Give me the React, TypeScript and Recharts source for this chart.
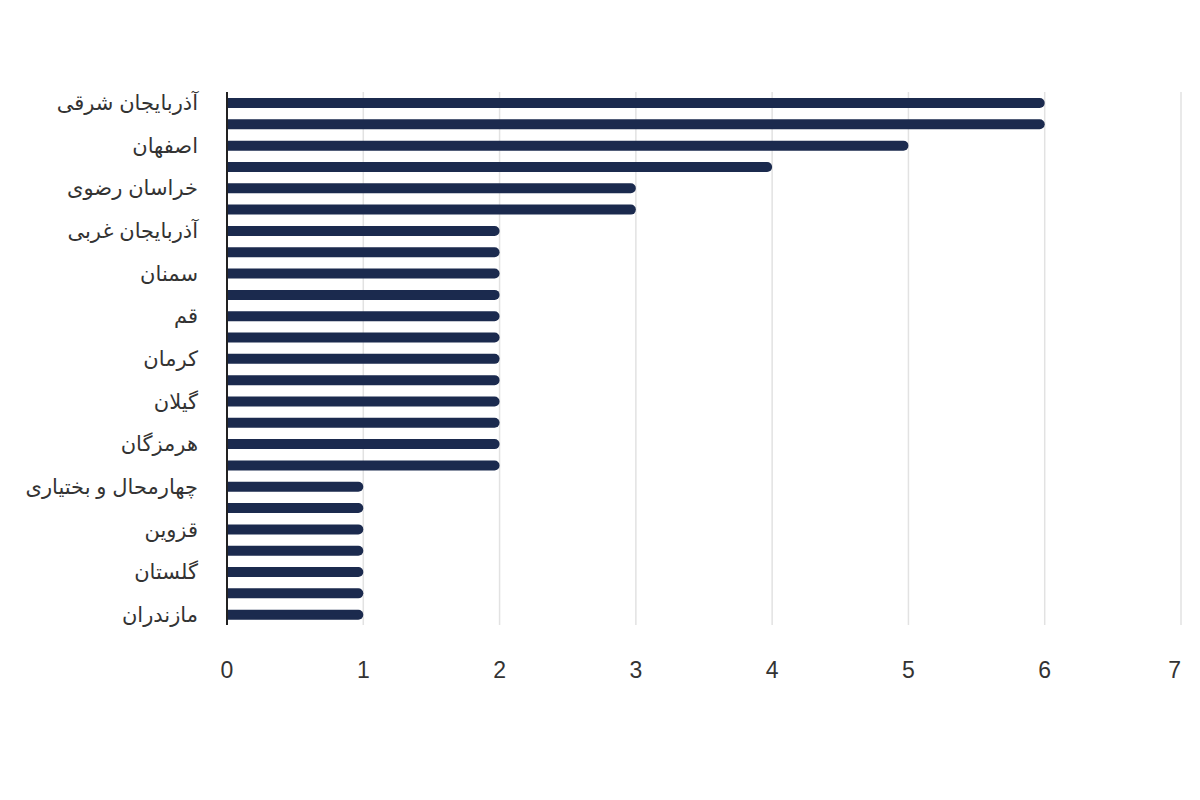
import { Bar, BarChart, CartesianGrid, XAxis, YAxis } from "recharts";

const PROVINCES = [
  "آذربایجان شرقی",
  "تهران",
  "اصفهان",
  "فارس",
  "خراسان رضوی",
  "خوزستان",
  "آذربایجان غربی",
  "زنجان",
  "سمنان",
  "سیستان و بلوچستان",
  "قم",
  "کردستان",
  "کرمان",
  "کرمانشاه",
  "گیلان",
  "مرکزی",
  "هرمزگان",
  "یزد",
  "چهارمحال و بختیاری",
  "خراسان شمالی",
  "قزوین",
  "کهگیلویه و بویراحمد",
  "گلستان",
  "لرستان",
  "مازندران",
];

const COUNTS = [6, 6, 5, 4, 3, 3, 2, 2, 2, 2, 2, 2, 2, 2, 2, 2, 2, 2, 1, 1, 1, 1, 1, 1, 1];

const X_TICKS = [0, 1, 2, 3, 4, 5, 6, 7];

const BAR_COLOR = "#1b2a4e";
const FONT = "'Liberation Sans', Arial, 'DejaVu Sans', sans-serif";

const chartData = PROVINCES.map((name, i) => ({ name, value: COUNTS[i] }));

// last tick sits against the right edge, so it is right-aligned
function XTick(props: any) {
  const { x, y, payload } = props;
  const last = payload.value === X_TICKS[X_TICKS.length - 1];
  return (
    <text
      x={x}
      y={y}
      dy={17}
      textAnchor={last ? "end" : "middle"}
      fill="#333"
      fontSize={23}
      fontFamily={FONT}
    >
      {payload.value}
    </text>
  );
}

export default function App() {
  return (
    <div style={{ position: "absolute", left: 0, top: 0, width: 1200, height: 800, background: "#fff", fontFamily: FONT }}>
      <BarChart
        width={1200}
        height={800}
        data={chartData}
        layout="vertical"
        margin={{ top: 92, right: 19, bottom: 115, left: 0 }}
        barCategoryGap={0}
      >
        <CartesianGrid horizontal={false} stroke="#e2e2e2" strokeWidth={1.5} />
        <XAxis
          type="number"
          domain={[0, 7]}
          ticks={X_TICKS}
          axisLine={false}
          tickLine={false}
          height={60}
          tickMargin={30}
          tick={<XTick />}
        />
        <YAxis
          type="category"
          dataKey="name"
          width={227}
          interval={1}
          tickLine={false}
          axisLine={{ stroke: "#222", strokeWidth: 2 }}
          tickMargin={23}
          tick={{ fill: "#333", fontSize: 21, fontFamily: FONT }}
        />
        <Bar
          dataKey="value"
          fill={BAR_COLOR}
          barSize={10}
          radius={[0, 5, 5, 0]}
          isAnimationActive={false}
        />
      </BarChart>
    </div>
  );
}
